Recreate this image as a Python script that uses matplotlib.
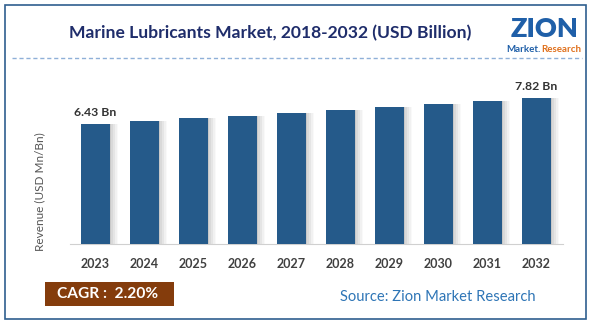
import numpy as np
import matplotlib
matplotlib.use("Agg")
import matplotlib.pyplot as plt
from matplotlib.patches import Rectangle

plt.rcParams['font.family'] = ['Lato', 'DejaVu Sans']

# Daten
years = ['2023', '2024', '2025', '2026', '2027', '2028', '2029', '2030', '2031', '2032']
revenue = [6.43, 6.57, 6.72, 6.86, 7.01, 7.17, 7.33, 7.49, 7.65, 7.82]
labels = {0: '6.43 Bn', 9: '7.82 Bn'}

title = 'Marine Lubricants Market, 2018-2032 (USD Billion)'
cagr_text = 'CAGR :  2.20%'
source_text = 'Source: Zion Market Research'

W, H = 597, 328
fig = plt.figure(figsize=(W / 100, H / 100), dpi=100)
fig.patch.set_facecolor('white')

# Rahmen
fig.add_artist(Rectangle((5 / W, 1 - 319 / H), 581 / W, 314 / H,
                         transform=fig.transFigure, fill=False,
                         edgecolor='#2f5f8f', lw=1.2))

# gestrichelte Linie unter dem Titel
fig.add_artist(plt.Line2D([12 / W, 582 / W], [1 - 58 / H, 1 - 58 / H],
                          transform=fig.transFigure, color='#8fb0d8',
                          lw=1.0, ls=(0, (3, 2))))

fig.text(270 / W, 1 - 33 / H, title, ha='center', va='center',
         fontsize=12.6, fontweight='bold', color='#1f2d6b')

# Logo (Text-Nachbildung)
fig.text(545 / W, 1 - 29 / H, 'ZION', ha='center', va='center',
         fontsize=19.5, fontweight='heavy', color='#1f5fa8')
fig.text(541 / W, 1 - 49 / H, 'Market.', ha='right', va='center',
         fontsize=7, fontweight='bold', color='#1f5fa8')
fig.text(541 / W, 1 - 49 / H, 'Research', ha='left', va='center',
         fontsize=7, fontweight='bold', color='#e0701c')

# Achse
ax = fig.add_axes([70 / W, 1 - 244 / H, 493 / W, 169 / H])
x = np.arange(len(years))
bw = 0.59

# Schatten rechts der Balken
for k, a in enumerate([0.10, 0.08, 0.06, 0.04, 0.03]):
    off = 0.03 + 0.035 * k
    ax.bar(x + off, revenue, width=bw, color='#404040', alpha=a,
           edgecolor='none', zorder=1)
ax.bar(x, revenue, width=bw, color='#255a8a', edgecolor='none', zorder=3)

for i, txt in labels.items():
    ax.text(x[i], revenue[i] + 0.32, txt, ha='center', va='bottom',
            fontsize=8.8, fontweight='bold', color='#333333')

ax.set_xlim(-0.52, 9.54)
ax.set_ylim(0, 9.04)
ax.set_xticks(x)
ax.set_xticklabels(years, fontsize=9, fontweight='bold', color='#404040')
ax.tick_params(axis='x', length=0, pad=10)
ax.set_yticks([])
for s in ['top', 'right', 'left']:
    ax.spines[s].set_visible(False)
ax.spines['bottom'].set_color('#d0d0d0')
ax.set_ylabel('Revenue (USD Mn/Bn)', fontsize=8.5, color='#555555')
ax.yaxis.set_label_coords(-0.05, 0.31)

# CAGR-Box
fig.add_artist(Rectangle((45 / W, 1 - 306 / H), 129 / W, 24 / H,
                         transform=fig.transFigure, facecolor='#843c0c',
                         edgecolor='none'))
fig.text(108 / W, 1 - 294 / H, cagr_text, ha='center', va='center',
         fontsize=11.2, fontweight='bold', color='white')

fig.text(438 / W, 1 - 297 / H, source_text, ha='center', va='center',
         fontsize=10.6, color='#2e75b6')

fig.savefig('out.png', dpi=100)
